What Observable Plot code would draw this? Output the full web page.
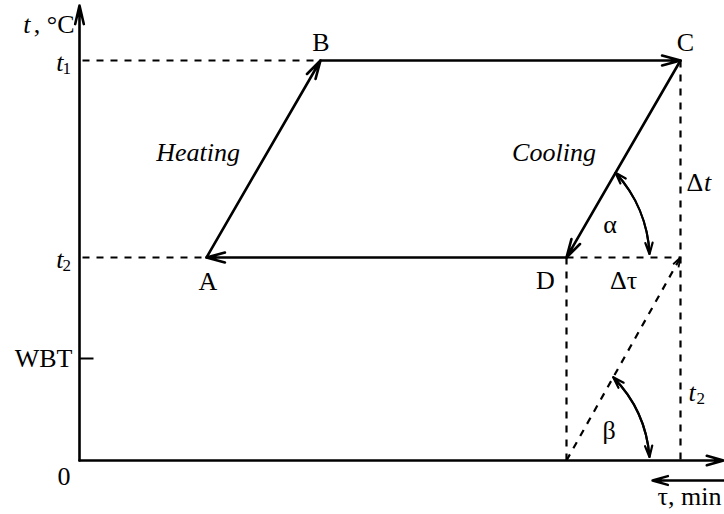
<!DOCTYPE html>
<html><head><meta charset="utf-8">
<script src="https://cdn.jsdelivr.net/npm/d3@7"></script>
<script src="https://cdn.jsdelivr.net/npm/@observablehq/plot@0.6"></script>
<style>body{margin:0;background:#fff}</style>
</head><body>
<script>
// ---- data (τ in min, t in °C, schematic units) ----
const pointNames = ["A", "B", "C", "D"];
const pointTau   = [12.7, 24.1, 60.1, 48.7];
const pointTemp  = [20.3, 40.0, 40.0, 20.3];
const levelNames = ["t1", "t2", "WBT"];
const levelTemp  = [40.0, 20.3, 10.2];
const tauMax  = 64.4;
const tempMax = 45.5;

const pts = pointNames.map((n, i) => ({name: n, tau: pointTau[i], temp: pointTemp[i]}));
const P = Object.fromEntries(pts.map(p => [p.name, p]));
const [t1, t2, wbt] = levelTemp;
const cycle = pts.map((p, i) => {
  const q = pts[(i + 1) % pts.length];
  return {x1: p.tau, y1: p.temp, x2: q.tau, y2: q.temp};
});
const Cp = {tau: P.C.tau, temp: t2};      // C projected to t2 level
const D0 = {tau: P.D.tau, temp: 0};       // D projected to τ axis
const Cb = {tau: P.C.tau, temp: 0};

const dashed = [
  {x1: 0.3, y1: t1, x2: P.B.tau, y2: t1},
  {x1: 0.3, y1: t2, x2: P.A.tau, y2: t2},
  {x1: P.D.tau, y1: t2, x2: Cp.tau, y2: Cp.temp},
  {x1: P.C.tau, y1: P.C.temp, x2: Cb.tau, y2: Cb.temp},
  {x1: P.D.tau, y1: t2, x2: D0.tau, y2: D0.temp},
  {x1: D0.tau, y1: D0.temp, x2: Cp.tau, y2: Cp.temp}
];

// arrow wings for the dashed diagonal (x and y scales are isotropic)
function wings(from, to, len, ang) {
  const dx = from.tau - to.tau, dy = from.temp - to.temp;
  const L = Math.hypot(dx, dy), ux = dx / L, uy = dy / L;
  return [-1, 1].map(s => {
    const a = s * ang * Math.PI / 180;
    return {x1: to.tau + len * (ux * Math.cos(a) - uy * Math.sin(a)),
            y1: to.temp + len * (ux * Math.sin(a) + uy * Math.cos(a)),
            x2: to.tau, y2: to.temp};
  });
}
const diagHead = wings(D0, Cp, 1.0, 18);

// angle arcs α (at D) and β (at D0): end on slanted line, end on horizontal
function arcEnds(vertex, far, frac, run) {
  return {ax: vertex.tau + frac * (far.tau - vertex.tau), ay: vertex.temp + frac * (far.temp - vertex.temp),
          bx: vertex.tau + run, by: vertex.temp + 0.35};
}
const arcs = [arcEnds(P.D, P.C, 0.43, 8.3), arcEnds(D0, Cp, 0.41, 8.3)];

const font = "Liberation Serif, Times New Roman, serif";
const big = 26, sub = 17;
const T = (o) => ({fontSize: big, fontFamily: font, ...o});

const plot = Plot.plot({
  width: 724, height: 514,
  marginLeft: 79, marginRight: 0, marginTop: 5, marginBottom: 54,
  x: {domain: [0, tauMax], range: [79, 723]},
  y: {domain: [0, tempMax]},
  axis: null,
  style: {fontFamily: font, background: "white", overflow: "visible"},
  marks: [
    // dashed guides
    Plot.link(dashed, {x1: "x1", y1: "y1", x2: "x2", y2: "y2", stroke: "black", strokeWidth: 2.2, strokeDasharray: "7,7"}),
    Plot.link(diagHead, {x1: "x1", y1: "y1", x2: "x2", y2: "y2", stroke: "black", strokeWidth: 1.8}),
    // axes
    Plot.arrow([{x1: 0, y1: 0, x2: 0, y2: tempMax}], {x1: "x1", y1: "y1", x2: "x2", y2: "y2", stroke: "black", strokeWidth: 2.6, headLength: 11, headAngle: 26}),
    Plot.arrow([{x1: 0, y1: 0, x2: tauMax, y2: 0}], {x1: "x1", y1: "y1", x2: "x2", y2: "y2", stroke: "black", strokeWidth: 2.6, headLength: 10, headAngle: 32}),
    Plot.arrow([{x1: tauMax + 0.2, y1: -2, x2: 57.3, y2: -2}], {x1: "x1", y1: "y1", x2: "x2", y2: "y2", stroke: "black", strokeWidth: 2.4, headLength: 10, headAngle: 32}),
    Plot.link([{x1: 0, x2: 1.4, y: wbt}], {x1: "x1", x2: "x2", y1: "y", y2: "y", stroke: "black", strokeWidth: 2}),
    // cycle A→B→C→D→A
    Plot.arrow(cycle, {x1: "x1", y1: "y1", x2: "x2", y2: "y2", stroke: "black", strokeWidth: 2.6, headLength: 11, headAngle: 30}),
    // angle arcs (double-headed: two bent arrows over the same arc)
    Plot.arrow(arcs, {x1: "ax", y1: "ay", x2: "bx", y2: "by", bend: 20, stroke: "black", strokeWidth: 2.2, headLength: 8, headAngle: 36}),
    Plot.arrow(arcs, {x1: "bx", y1: "by", x2: "ax", y2: "ay", bend: -20, stroke: "black", strokeWidth: 2.2, headLength: 8, headAngle: 36}),
    // point labels
    Plot.text(pts.filter(p => p.name === "B"), T({x: "tau", y: "temp", text: "name", dx: 0.5, dy: -17.5})),
    Plot.text(pts.filter(p => p.name === "C"), T({x: "tau", y: "temp", text: "name", dx: 5, dy: -17.5})),
    Plot.text(pts.filter(p => p.name === "A"), T({x: "tau", y: "temp", text: "name", dx: 1.5, dy: 24})),
    Plot.text(pts.filter(p => p.name === "D"), T({x: "tau", y: "temp", text: "name", dx: -21, dy: 23})),
    // level labels on the t axis
    Plot.text(levelTemp.slice(0, 2), T({x: 0, y: d => d, text: () => "t", textAnchor: "end", dx: -16, dy: 2, fontStyle: "italic"})),
    Plot.text(levelNames.slice(0, 2).map((n, i) => ({temp: levelTemp[i], s: n.slice(1)})), T({x: 0, y: "temp", text: "s", textAnchor: "start", dx: -17, dy: 8, fontSize: sub})),
    Plot.text([{temp: wbt, s: levelNames[2]}], T({x: 0, y: "temp", text: "s", textAnchor: "end", dx: -7})),
    Plot.text([{s: "0"}], T({x: 0, y: 0, text: "s", dx: -15.5, dy: 16.5})),
    // axis titles
    Plot.text([{s: ", °C"}], T({x: 0, y: tempMax, text: "s", textAnchor: "end", dx: -5, dy: 19.5})),
    Plot.text([{s: "t"}], T({x: 0, y: tempMax, text: "s", textAnchor: "end", dx: -49, dy: 19.5, fontStyle: "italic"})),
    Plot.text([{s: "τ, min"}], T({x: 57.8, y: -3.6, text: "s", textAnchor: "start"})),
    // process labels
    Plot.text([{s: "Heating", x: 11.85, y: 30.75}, {s: "Cooling", x: 47.45, y: 30.8}], T({x: "x", y: "y", text: "s", fontStyle: "italic"})),
    // Δτ, Δt, α, β, t2
    Plot.text([{s: "Δτ"}], T({x: (P.D.tau + Cp.tau) / 2, y: t2, text: "s", dy: 23})),
    Plot.text([{s: "Δ"}], T({x: P.C.tau, y: 27.75, text: "s", textAnchor: "start", dx: 6})),
    Plot.text([{s: "t"}], T({x: P.C.tau, y: 27.75, text: "s", textAnchor: "start", dx: 23.5, fontStyle: "italic"})),
    Plot.text([{s: "α", x: 53.05, y: 23.6}, {s: "β", x: 52.95, y: 3.0}], T({x: "x", y: "y", text: "s"})),
    Plot.text([{s: "t"}], T({x: P.C.tau, y: 6.8, text: "s", textAnchor: "start", dx: 8, fontStyle: "italic"})),
    Plot.text([{s: "2"}], T({x: P.C.tau, y: 6.8, text: "s", textAnchor: "start", dx: 16, dy: 6, fontSize: sub}))
  ]
});
document.body.appendChild(plot);
</script>
</body></html>
